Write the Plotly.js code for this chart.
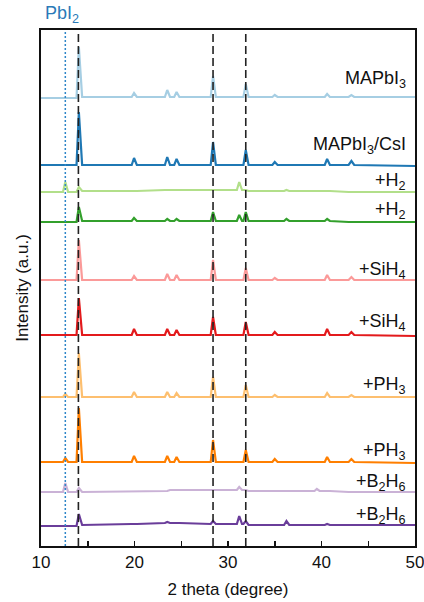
<!DOCTYPE html>
<html>
<head>
<meta charset="utf-8">
<script src="https://cdn.plot.ly/plotly-3.0.1.min.js"></script>
<style>html,body{margin:0;padding:0;background:#fff;}#chart{width:424px;height:602px;}</style>
</head>
<body>
<div id="chart"></div>
<script>
// 2-theta positions (degree) at which the patterns were read
const twoTheta = [10, 12.35, 12.6, 12.9, 13.8, 14.05, 14.4, 19.7, 19.95, 20.25, 23.25, 23.5, 23.8, 24.25, 24.5, 24.8,
  28.15, 28.4, 28.7, 30.95, 31.2, 31.5, 31.65, 31.9, 32.2, 34.75, 35.0, 35.3, 36.0, 36.25, 36.55, 39.25, 39.5, 39.8,
  40.35, 40.6, 40.9, 42.9, 43.2, 43.5, 50];

// series names (top to bottom)
const seriesNames = ['MAPbI<sub>3</sub>', 'MAPbI<sub>3</sub>/CsI', '+H<sub>2</sub>', '+H<sub>2</sub>', '+SiH<sub>4</sub>',
  '+SiH<sub>4</sub>', '+PH<sub>3</sub>', '+PH<sub>3</sub>', '+B<sub>2</sub>H<sub>6</sub>', '+B<sub>2</sub>H<sub>6</sub>'];

// vertical stacking offsets (a.u.)
const offsets = [448, 381, 354, 324, 266, 211, 149, 84, 54, 20];

// intensities (a.u.) above each baseline, at twoTheta
const iMAPbI3      = [0, 0,0,0, 0,51,1, 1,5,1, 1,8,1, 1,6,1, 1,22,1, 1,1,1, 1,14,1, 1,3,1, 1,1,1, 1,1,1, 1,4,1, 1,3,1, 1];
const iMAPbI3CsI   = [0, 0,0,0, 0,53,0, 0,7,0, 0,8,0, 0,6,0, 0,23,0, 0,0,0, 0,15,0, 0,3,0, 0,0,0, 0,0,0, 0,6,0, 0,4,0, -1];
const iH2a         = [0, 0,10,0, 0,5,1, 1,1,1, 2,2,2, 2,2,2, 2,2,2, 2,10,2, 2,2,1, 1,1,1, 1,2,1, 1,1,1, 1,1,1, 0,0,0, 0];
const iH2b         = [0, 0,0,0, 0,15,1, 1,4,1, 1,3,1, 1,3,1, 1,10,1, 1,7,1, 1,10,1, 1,1,1, 1,3,1, 1,1,1, 1,3,1, 0,0,0, 0];
const iSiH4a       = [0, 0,0,0, 0,40,0, 0,4,0, 0,6,0, 0,5,0, 0,20,0, 0,0,0, 0,12,0, 0,2,0, 0,0,0, 0,0,0, 0,5,0, 0,3,0, 0];
const iSiH4b       = [0, 0,0,0, 0,37,0, 0,6,0, 0,6,0, 0,5,0, 0,18,0, 0,0,0, 0,13,0, 0,3,0, 0,0,0, 0,0,0, 0,6,0, 0,3,0, -1];
const iPH3a        = [0, 0,3,0, 0,44,0, 0,5,0, 0,5,0, 0,4,0, 0,20,0, 0,0,0, 0,12,0, 0,2,0, 0,0,0, 0,0,0, 0,4,0, 0,2,0, 0];
const iPH3b        = [0, 0,4,0, 0,54,0, 0,6,0, 0,6,0, 0,5,0, 0,22,0, 0,0,0, 0,12,0, 0,3,0, 0,0,0, 0,0,0, 0,5,0, 0,3,0, -1];
const iB2H6a       = [0, 0,9,0, 0,4,0, 1,1,1, 1,1,2, 2,2,2, 2,2,2, 2,5,2, 2,2,1, 1,1,1, 1,1,1, 1,3,1, 1,1,1, 0,0,0, 0];
const iB2H6b       = [0, 0,0,0, 0,12,1, 2,2,2, 3,4,3, 3,3,3, 2,5,2, 2,10,2, 2,5,1, 1,1,1, 1,5,1, 1,1,1, 1,2,1, 1,1,1, 1];

const intensities = [iMAPbI3, iMAPbI3CsI, iH2a, iH2b, iSiH4a, iSiH4b, iPH3a, iPH3b, iB2H6a, iB2H6b];

// reference peak positions
const perovskitePeaks = [14.0, 28.4, 31.9];
const pbi2Peak = 12.6;

// x tick labels
const xTickVals = [10, 20, 30, 40, 50];
const xTickText = ['10', '20', '30', '40', '50'];
const xMinorTicks = [15, 25, 35, 45];

// styles
const colors = ['#a6cee3', '#1f78b4', '#b2df8a', '#33a02c', '#fb9a99', '#e31a1c', '#fdbf6f', '#ff7f00', '#cab2d6', '#6a3d9a'];
const labelShift = [19, 20, 11, 12, 10, 13, 12, 11, 10, 11];
const FONT = 'Arial, "Liberation Sans", sans-serif';

const traces = intensities.map((arr, i) => ({
  type: 'scatter', mode: 'lines',
  x: twoTheta,
  y: arr.map(v => v + offsets[i]),
  line: {color: colors[i], width: 2.2},
  name: seriesNames[i],
  showlegend: false,
  hoverinfo: 'skip'
}));

const shapes = perovskitePeaks.map(p => ({
  type: 'line', xref: 'x', yref: 'paper', x0: p, x1: p, y0: 0, y1: 1,
  line: {color: '#222', width: 1.6, dash: '8px,4px'}, layer: 'above'
}));
shapes.push({
  type: 'line', xref: 'x', yref: 'paper', x0: pbi2Peak, x1: pbi2Peak, y0: 0, y1: 1,
  line: {color: '#2f86c8', width: 1.5, dash: '2px,2px'}, layer: 'above'
});

const annotations = seriesNames.map((n, i) => ({
  xref: 'x', yref: 'y', x: 49.2, y: offsets[i] + labelShift[i],
  xanchor: 'right', yanchor: 'middle', showarrow: false,
  text: n, font: {family: FONT, size: 18, color: '#111'}
}));
annotations.push({
  xref: 'x', yref: 'paper', x: pbi2Peak, y: 1, xanchor: 'center', yanchor: 'bottom',
  xshift: -3, yshift: 2, showarrow: false,
  text: 'PbI<sub>2</sub>', font: {family: FONT, size: 18, color: '#2a7ab8'}
});

const layout = {
  width: 424, height: 602,
  margin: {l: 41, r: 9, t: 30, b: 56},
  paper_bgcolor: '#fff', plot_bgcolor: '#fff',
  font: {family: FONT, size: 17, color: '#111'},
  xaxis: {
    range: [10, 50], tickmode: 'array', tickvals: xTickVals, ticktext: xTickText,
    ticks: 'inside', ticklen: 5, tickwidth: 1.5, tickcolor: '#111',
    minor: {tickmode: 'array', tickvals: xMinorTicks, ticks: 'inside', ticklen: 5, tickwidth: 1.5, tickcolor: '#111', showgrid: false},
    ticklabeloverflow: 'allow',
    showline: true, linecolor: '#111', linewidth: 2, mirror: true,
    showgrid: false, zeroline: false,
    tickfont: {family: FONT, size: 17, color: '#111'},
    title: {text: '2 theta (degree)', font: {family: FONT, size: 17, color: '#111'}, standoff: 12}
  },
  yaxis: {
    range: [0, 516], showticklabels: false, ticks: '',
    showline: true, linecolor: '#111', linewidth: 2, mirror: true,
    showgrid: false, zeroline: false,
    title: {text: 'Intensity (a.u.)', font: {family: FONT, size: 17, color: '#111'}, standoff: 6}
  },
  shapes: shapes,
  annotations: annotations
};

Plotly.newPlot('chart', traces, layout, {displayModeBar: false, staticPlot: true});
</script>
</body>
</html>
